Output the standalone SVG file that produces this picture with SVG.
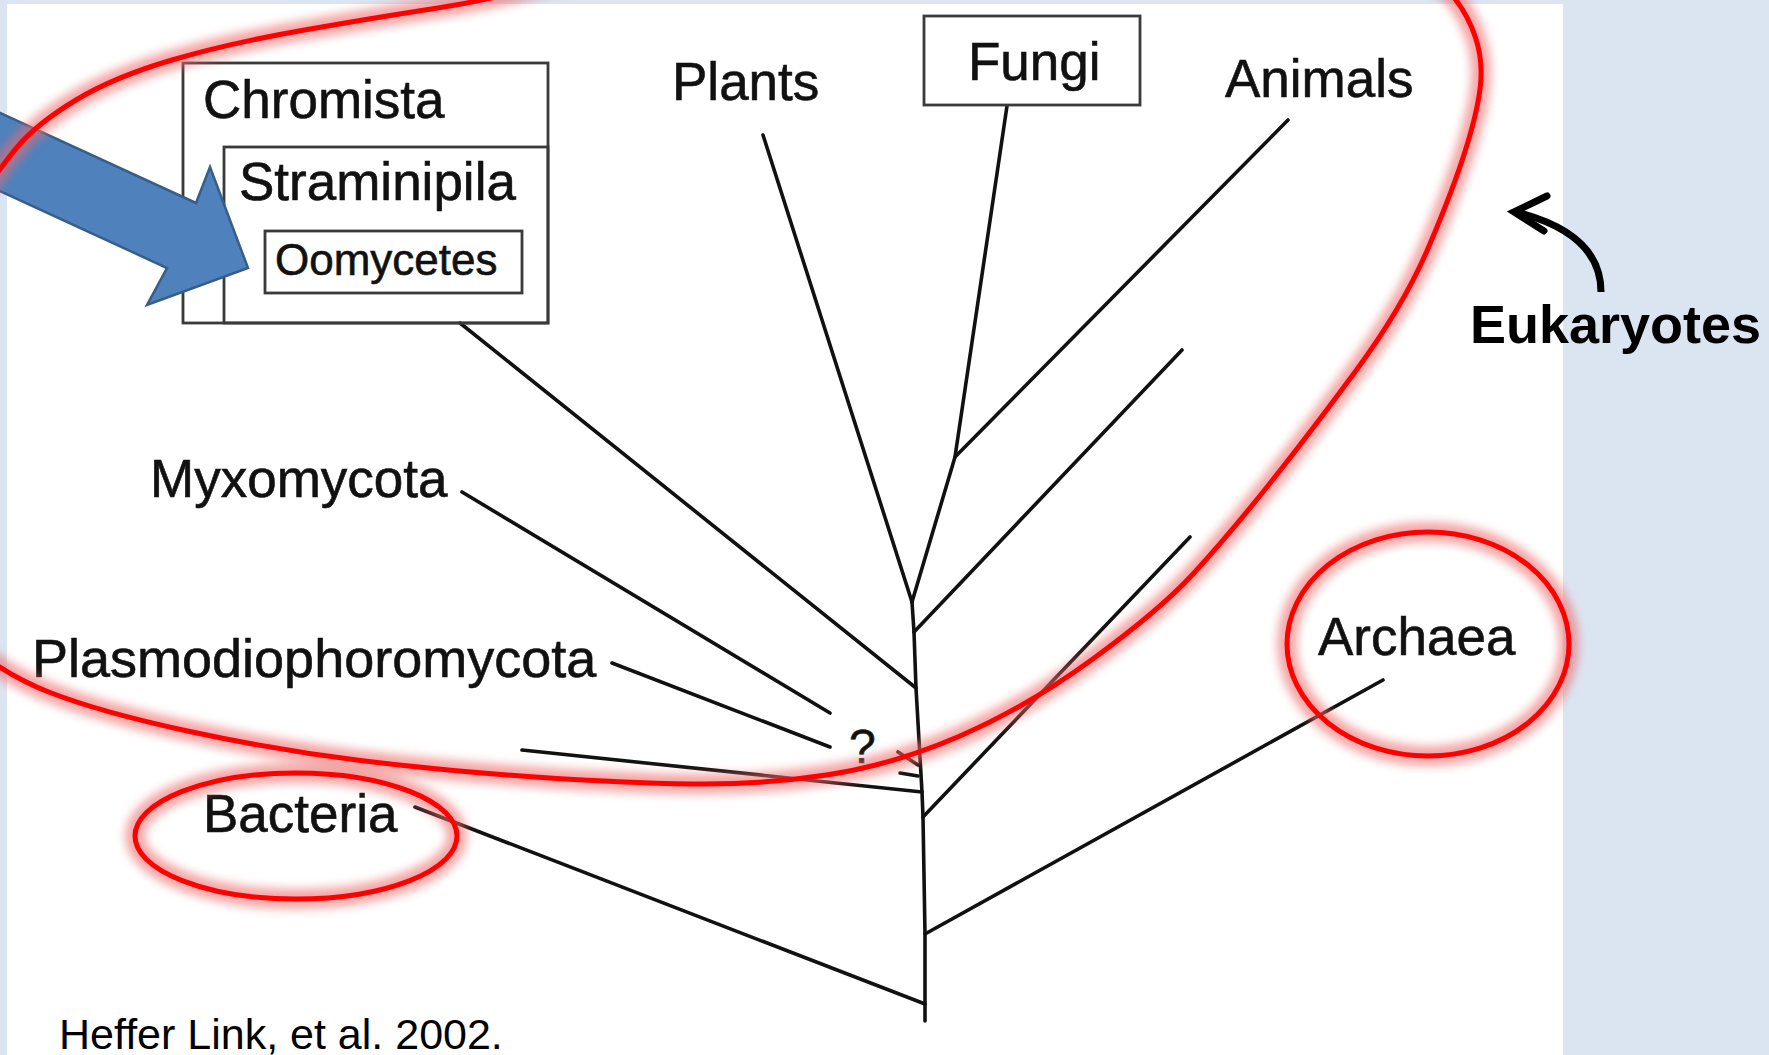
<svg xmlns="http://www.w3.org/2000/svg" width="1769" height="1055" viewBox="0 0 1769 1055">
  <style>
    .lbl { font-family: "Liberation Sans", Arial, Helvetica, sans-serif; font-size: 53px; fill: #111; stroke: #111; stroke-width: 0.6; }
    .box { fill: none; stroke: #3a3a3a; stroke-width: 2.8; }
    .ln { fill: none; stroke: #111; stroke-width: 3.6; stroke-linecap: round; stroke-linejoin: round; }
    .red { fill: none; stroke: #ff0000; stroke-width: 5; }
    .halo { fill: none; stroke: #ec6b6b; stroke-width: 20; opacity: 0.6; filter: url(#blur); }
  </style>
  <defs>
    <filter id="blur" filterUnits="userSpaceOnUse" x="-200" y="-200" width="2200" height="1500">
      <feGaussianBlur stdDeviation="5"/>
    </filter>
  </defs>

  <!-- background -->
  <rect x="0" y="0" width="1769" height="1055" fill="#dbe5f1"/>
  <rect x="7" y="4" width="1556" height="1051" fill="#ffffff"/>

  <!-- connectors (tree branches) -->
  <g id="connectors" class="ln">
    <polyline points="912,602 914,632 916,688 922,792 923,817 925,934 925,1004 925,1021"/>
    <line x1="460" y1="323" x2="916" y2="688"/>
    <line x1="763" y1="135" x2="912" y2="602"/>
    <polyline points="1007,106 955,457 912,602"/>
    <line x1="1288" y1="120" x2="955" y2="457"/>
    <line x1="1182" y1="350" x2="914" y2="632"/>
    <line x1="462" y1="492" x2="830" y2="713"/>
    <line x1="612" y1="663" x2="830" y2="747"/>
    <line x1="522" y1="750" x2="922" y2="792"/>
    <line x1="1190" y1="537" x2="923" y2="817"/>
    <line x1="1383" y1="680" x2="925" y2="934"/>
    <line x1="415" y1="807" x2="925" y2="1004"/>
    <line x1="898" y1="752" x2="918" y2="765"/>
    <line x1="900" y1="773" x2="918" y2="776"/>
  </g>

  <!-- nodes -->
  <g id="node-chromista">
    <rect class="box" x="183" y="63" width="365" height="260"/>
    <text class="lbl" x="203" y="118">Chromista</text>
  </g>
  <g id="node-straminipila">
    <rect class="box" x="224" y="147" width="324" height="176"/>
    <text class="lbl" x="239" y="200">Straminipila</text>
  </g>
  <g id="node-oomycetes">
    <rect class="box" x="265" y="231" width="257" height="62"/>
    <text class="lbl" x="275" y="275" style="font-size:44px">Oomycetes</text>
  </g>
  <g id="node-plants">
    <text class="lbl" x="672" y="100">Plants</text>
  </g>
  <g id="node-fungi">
    <rect class="box" x="924" y="16" width="216" height="89"/>
    <text class="lbl" x="968" y="80">Fungi</text>
  </g>
  <g id="node-animals">
    <text class="lbl" x="1225" y="97">Animals</text>
  </g>
  <g id="node-myxomycota">
    <text class="lbl" x="150" y="497">Myxomycota</text>
  </g>
  <g id="node-plasmodiophoromycota">
    <text class="lbl" x="32" y="677" style="font-size:54px">Plasmodiophoromycota</text>
  </g>
  <g id="node-unknown">
    <text class="lbl" x="849" y="763" style="font-size:48px">?</text>
  </g>
  <g id="node-bacteria">
    <text class="lbl" x="203" y="832">Bacteria</text>
  </g>
  <g id="node-archaea">
    <text class="lbl" x="1318" y="655">Archaea</text>
  </g>

  <!-- blue block arrow pointing at Oomycetes -->
  <g id="blue-arrow">
    <polygon points="-50,90 196,203 210,167 248,268 147,305 167,268 -50,168" fill="#4f81bd" stroke="#385d8a" stroke-width="2.5" stroke-linejoin="miter"/>
  </g>

  <!-- red highlight outlines -->
  <g id="highlights">
    <path class="halo" d="M -40,636.5 Q 0,673 50,692.5 Q 100,712 187.5,731 Q 275,750 360.5,760.5 Q 446,771 535,777 Q 624,783 692,784 Q 760,785 826.5,775 Q 893,765 960,736 Q 1027,707 1093.5,658.5 Q 1160,610 1193.5,573.5 Q 1227,537 1267,487 Q 1307,437 1355,372 Q 1403,307 1428,248.5 Q 1453,190 1465.5,150 Q 1478,110 1480.5,85 Q 1483,60 1475.5,37.5 Q 1468,15 1454,-2.5 Q 1440,-20 1370,-45 Q 1300,-70 1100,-75 Q 900,-80 750,-55 Q 600,-30 545,-15 Q 490,0 434.5,8.5 Q 379,17 304.5,30 Q 230,43 172,60 Q 114,77 76,100 Q 38,123 19,145 Q 0,167 -30,213.5 Q -60,260 -80,355 Q -100,450 -90,525 Q -80,600 -40,636.5 Z"/>
    <ellipse class="halo" cx="296" cy="836" rx="161" ry="63"/>
    <ellipse class="halo" cx="1428" cy="644" rx="141" ry="112"/>
    <path class="red" d="M -40,636.5 Q 0,673 50,692.5 Q 100,712 187.5,731 Q 275,750 360.5,760.5 Q 446,771 535,777 Q 624,783 692,784 Q 760,785 826.5,775 Q 893,765 960,736 Q 1027,707 1093.5,658.5 Q 1160,610 1193.5,573.5 Q 1227,537 1267,487 Q 1307,437 1355,372 Q 1403,307 1428,248.5 Q 1453,190 1465.5,150 Q 1478,110 1480.5,85 Q 1483,60 1475.5,37.5 Q 1468,15 1454,-2.5 Q 1440,-20 1370,-45 Q 1300,-70 1100,-75 Q 900,-80 750,-55 Q 600,-30 545,-15 Q 490,0 434.5,8.5 Q 379,17 304.5,30 Q 230,43 172,60 Q 114,77 76,100 Q 38,123 19,145 Q 0,167 -30,213.5 Q -60,260 -80,355 Q -100,450 -90,525 Q -80,600 -40,636.5 Z"/>
    <ellipse class="red" cx="296" cy="836" rx="161" ry="63"/>
    <ellipse class="red" cx="1428" cy="644" rx="141" ry="112"/>
  </g>

  <!-- Eukaryotes label with curved arrow -->
  <g id="node-eukaryotes">
    <path d="M 1601,292 C 1601,255 1576,228 1520,213" fill="none" stroke="#000" stroke-width="7" stroke-linecap="butt"/>
    <polyline points="1547,196 1514,212 1544,231" fill="none" stroke="#000" stroke-width="7" stroke-linecap="round" stroke-linejoin="miter"/>
    <text x="1470" y="343" style="font-family:'Liberation Sans', Arial, sans-serif; font-size:54px; font-weight:bold; fill:#000">Eukaryotes</text>
  </g>

  <!-- citation -->
  <g id="citation">
    <text x="59" y="1049" style="font-family:'Liberation Sans', Arial, sans-serif; font-size:43px; fill:#000">Heffer Link, et al. 2002.</text>
  </g>
</svg>
